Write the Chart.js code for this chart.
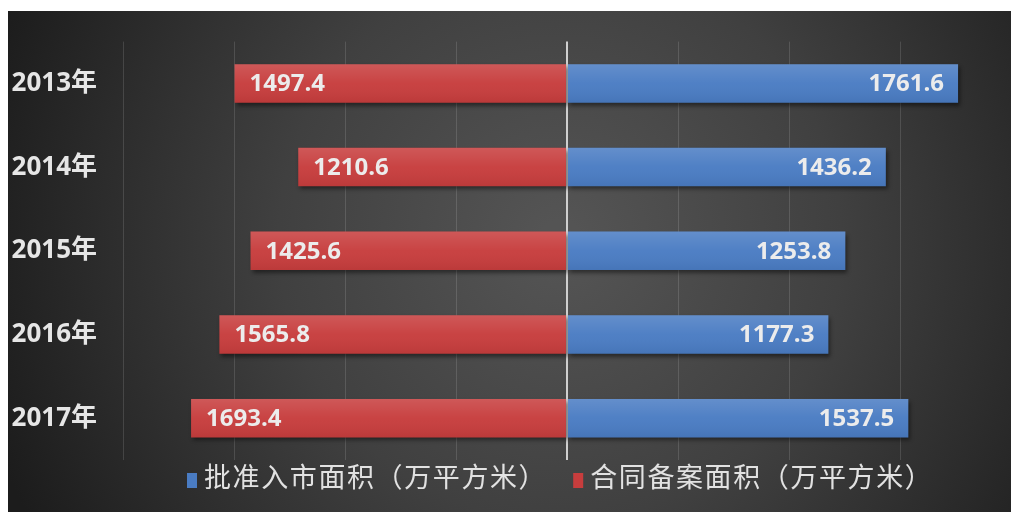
<!DOCTYPE html>
<html>
<head>
<meta charset="utf-8">
<script src="https://cdn.jsdelivr.net/npm/chart.js@4.4.1/dist/chart.umd.min.js"></script>
<style>
html,body{margin:0;padding:0;background:#fff;}
#wrap{width:1011px;height:512px;position:relative;}
</style>
</head>
<body>
<div id="wrap"><canvas id="c" width="1011" height="512"></canvas></div>
<script>
const categories = ['2013年','2014年','2015年','2016年','2017年'];
const approvedArea = [1761.6, 1436.2, 1253.8, 1177.3, 1537.5];
const contractArea = [1497.4, 1210.6, 1425.6, 1565.8, 1693.4];
const seriesNames = ['批准入市面积（万平方米）','合同备案面积（万平方米）'];
const axisMin = -2000, axisMax = 2000, axisStep = 500;

const BLUE = '#4a7cc3';
const RED = '#c73d3d';

const bgPlugin = {
  id: 'bg',
  beforeDraw(chart) {
    const ctx = chart.ctx;
    const W = chart.width, H = chart.height;
    ctx.save();
    ctx.fillStyle = '#ffffff';
    ctx.fillRect(0, 0, W, H);
    const g = ctx.createRadialGradient(560, 240, 20, 560, 240, 600);
    g.addColorStop(0, '#545454');
    g.addColorStop(0.45, '#404040');
    g.addColorStop(1, '#1c1c1c');
    ctx.fillStyle = g;
    ctx.fillRect(8, 11, W - 8, H - 11);
    ctx.restore();
  }
};

const shadowPlugin = {
  id: 'barShadow',
  beforeDatasetDraw(chart) {
    const ctx = chart.ctx;
    ctx.save();
    ctx.shadowColor = 'rgba(0,0,0,0.45)';
    ctx.shadowBlur = 4;
    ctx.shadowOffsetX = 2;
    ctx.shadowOffsetY = 3;
  },
  afterDatasetDraw(chart) {
    chart.ctx.restore();
  }
};

const labelPlugin = {
  id: 'valueLabels',
  afterDatasetsDraw(chart) {
    const ctx = chart.ctx;
    ctx.save();
    // subtle gloss on the bars
    chart.data.datasets.forEach((ds, di) => {
      chart.getDatasetMeta(di).data.forEach((bar) => {
        const top = bar.y - bar.height / 2;
        const g = ctx.createLinearGradient(0, top, 0, top + bar.height);
        g.addColorStop(0, 'rgba(255,255,255,0.14)');
        g.addColorStop(0.5, 'rgba(255,255,255,0.03)');
        g.addColorStop(1, 'rgba(0,0,0,0.06)');
        ctx.fillStyle = g;
        const l = Math.min(bar.x, bar.base), w = Math.abs(bar.x - bar.base);
        ctx.fillRect(l, top, w, bar.height);
      });
    });
    ctx.font = 'bold 24px "Open Sans", "Noto Sans CJK SC", sans-serif';
    ctx.fillStyle = '#ececec';
    ctx.textBaseline = 'middle';
    chart.data.datasets.forEach((ds, di) => {
      const meta = chart.getDatasetMeta(di);
      meta.data.forEach((bar, i) => {
        const v = ds.data[i];
        const txt = Math.abs(v).toFixed(1);
        if (v < 0) {
          ctx.textAlign = 'left';
          ctx.fillText(txt, bar.x + 15, bar.y + 1);
        } else {
          ctx.textAlign = 'right';
          ctx.fillText(txt, bar.x - 14, bar.y + 1);
        }
      });
    });
    ctx.restore();
  }
};

const legendPlugin = {
  id: 'customLegend',
  afterDraw(chart) {
    const ctx = chart.ctx;
    ctx.save();
    ctx.font = '27px "Noto Sans CJK SC", sans-serif';
    ctx.letterSpacing = '1.6px';
    ctx.textBaseline = 'middle';
    ctx.textAlign = 'left';
    const y = chart.chartArea.bottom + 17;
    let x = 187;
    chart.data.datasets.forEach((ds) => {
      ctx.fillStyle = ds.backgroundColor;
      ctx.fillRect(x, y - 4, 10, 15);
      ctx.fillStyle = '#e2e2e2';
      ctx.fillText(ds.label, x + 17, y);
      x += 17 + ctx.measureText(ds.label).width + 26;
    });
    ctx.restore();
  }
};

new Chart(document.getElementById('c'), {
  type: 'bar',
  data: {
    labels: categories,
    datasets: [
      { label: seriesNames[0], data: approvedArea, backgroundColor: BLUE, borderWidth: 0,
        categoryPercentage: 0.5, barPercentage: 0.92 },
      { label: seriesNames[1], data: contractArea.map(v => -v), backgroundColor: RED, borderWidth: 0,
        categoryPercentage: 0.5, barPercentage: 0.92 }
    ]
  },
  plugins: [bgPlugin, shadowPlugin, labelPlugin, legendPlugin],
  options: {
    indexAxis: 'y',
    responsive: false,
    animation: false,
    devicePixelRatio: 1,
    layout: { padding: { top: 40, bottom: 52, left: 0, right: 0 } },
    plugins: { legend: { display: false }, tooltip: { enabled: false } },
    scales: {
      x: {
        stacked: true,
        min: axisMin, max: axisMax,
        ticks: { display: false, stepSize: axisStep },
        border: { display: false },
        grid: {
          drawTicks: false,
          color: (c) => c.tick && c.tick.value === 0 ? '#cfcfcf' : (c.tick && c.tick.value === axisMax ? 'rgba(0,0,0,0)' : 'rgba(255,255,255,0.13)'),
          lineWidth: (c) => c.tick && c.tick.value === 0 ? 2 : 1
        },
        afterFit(scale) { scale.height = 0; }
      },
      y: {
        stacked: true,
        grid: { display: false, drawTicks: false },
        border: { display: false },
        ticks: {
          color: '#e6e6e6',
          padding: 26,
          font: { family: '"Open Sans", "Noto Sans CJK SC", sans-serif', size: 26, weight: 'bold' }
        },
        afterFit(scale) { scale.width = 123; }
      }
    }
  }
});
</script>
</body>
</html>
